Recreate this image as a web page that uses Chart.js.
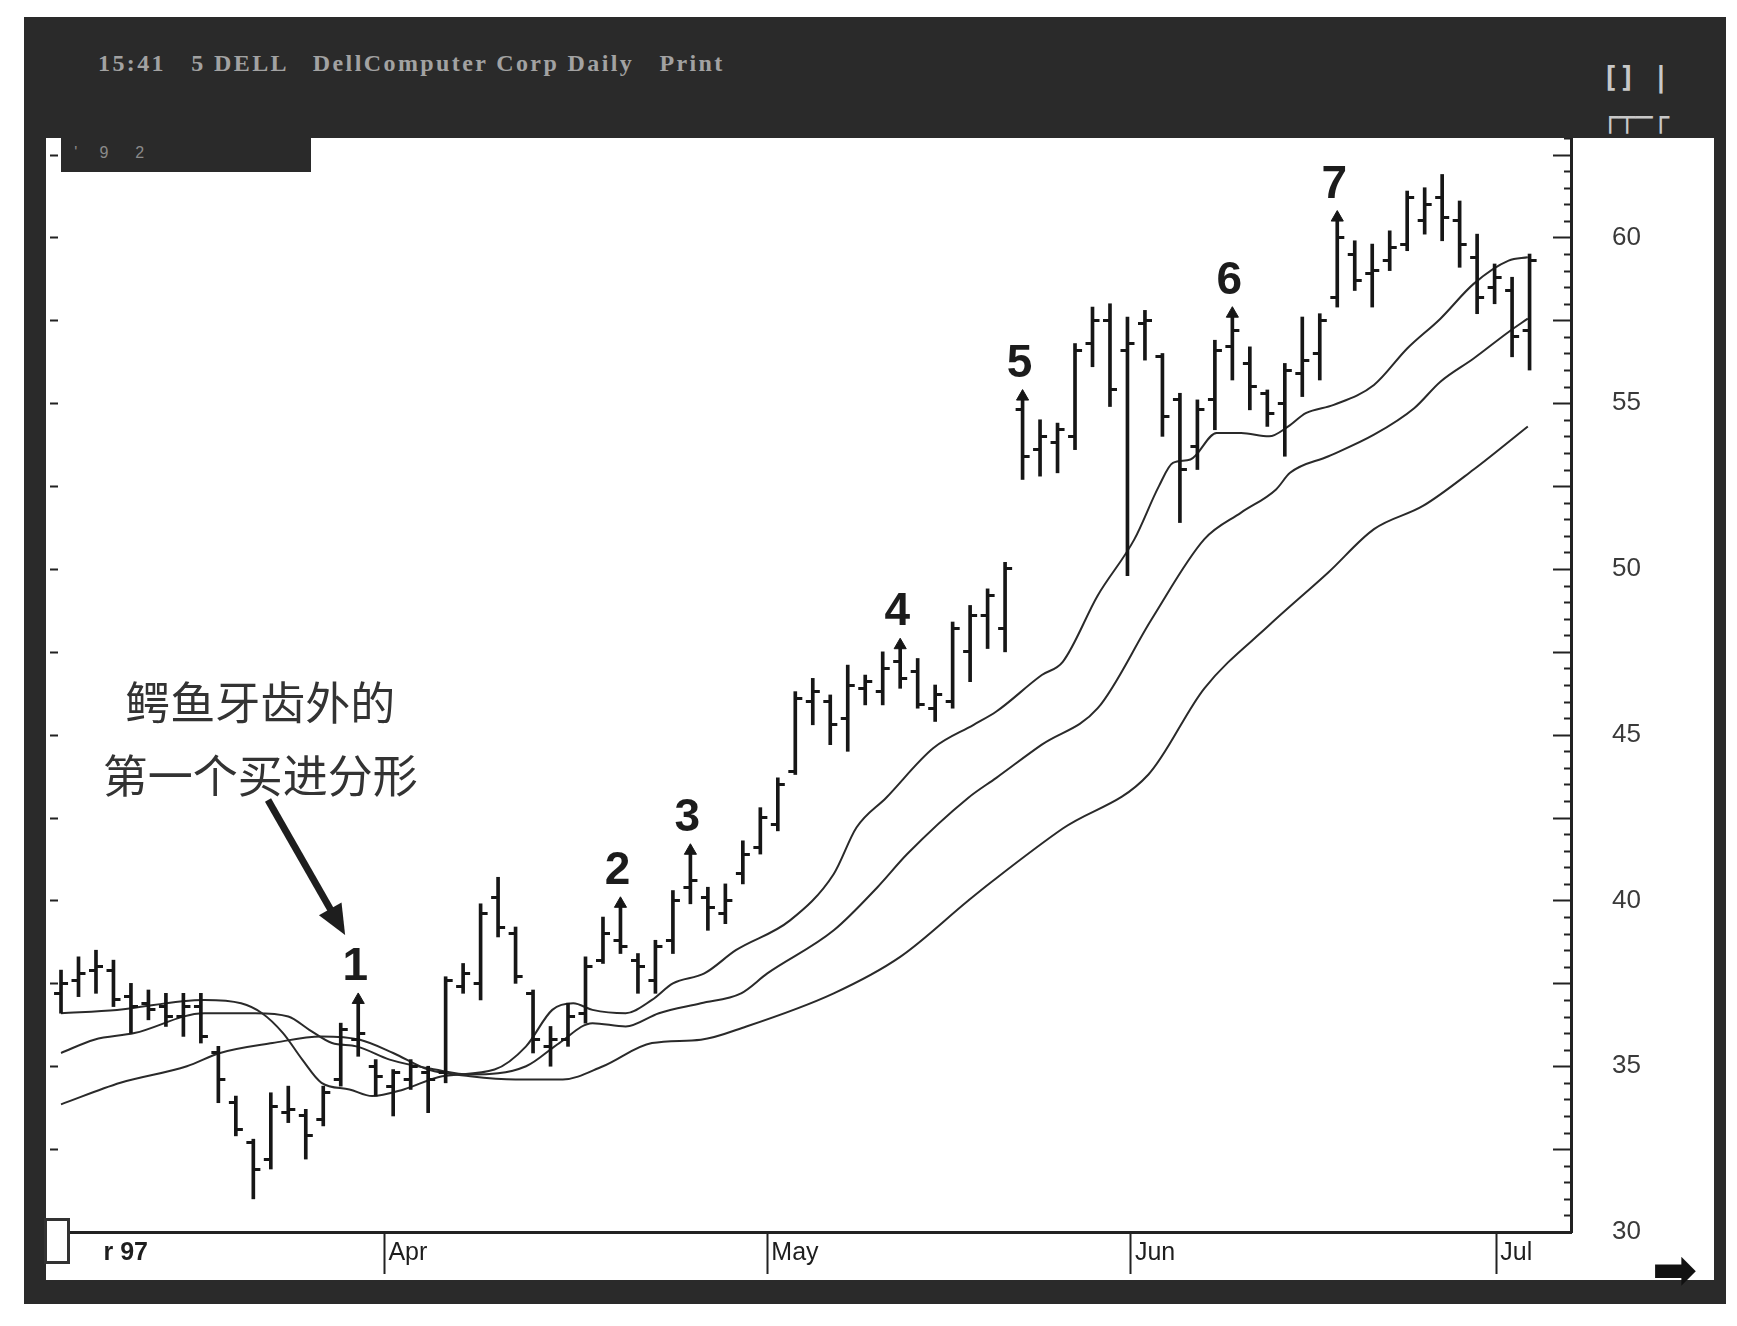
<!DOCTYPE html>
<html>
<head>
<meta charset="utf-8">
<script src="https://cdn.jsdelivr.net/npm/chart.js@4.4.0/dist/chart.umd.min.js"></script>
<style>
  body { margin: 0; background: #fff; width: 1737px; height: 1326px; position: relative; overflow: hidden; }
  #frame { position: absolute; left: 24px; top: 17px; width: 1702px; height: 1287px; background: #2a2a2a; }
  #title { position: absolute; left: 98px; top: 50px; color: #a2a2a2; font: bold 24px "Liberation Serif", serif; letter-spacing: 2.4px; white-space: pre; }
  #icons { position: absolute; left: 1602px; top: 58px; color: #c8c8c8; font: bold 28px "DejaVu Sans Mono", monospace; line-height: 40px; white-space: pre; }
  #panel { position: absolute; left: 46px; top: 138px; width: 1668px; height: 1142px; background: #fff; }
  #tag { position: absolute; left: 61px; top: 138px; width: 250px; height: 34px; background: #2a2a2a; color: #8a8a8a; font: 16px "Liberation Sans", sans-serif; line-height: 30px; white-space: pre; }
  #corner { position: absolute; left: 44px; top: 1218px; width: 20px; height: 40px; border: 3px solid #333; background: #fff; }
  #goRight { position: absolute; left: 1652px; top: 1238px; color: #111; font: bold 54px "DejaVu Sans", sans-serif; }
</style>
</head>
<body>
<div id="frame"></div>
<div id="title">15:41   5 DELL   DellComputer Corp Daily   Print</div>
<div id="icons">[] |
┌┬─┌</div>
<div id="panel"><canvas id="chart" width="1668" height="1142"></canvas></div>
<div id="tag">   '     9      2</div>
<div id="corner"></div>
<div id="goRight">➡</div>
<script>
// daily bars, index 0 = first visible day of March 97
const opens  = [37.2,37.6,37.9,37.9,37.1,36.9,36.8,36.5,36.8,35.4,33.9,32.7,32.2,33.6,33.5,33.4,34.6,35.8,35.0,34.4,34.6,34.8,
  34.8,37.4,37.5,40.1,39.0,37.2,35.6,35.8,36.6,38.2,38.8,38.2,37.6,38.8,40.4,40.1,39.6,40.8,41.6,42.3,
  43.9,46.0,46.0,45.5,46.4,46.3,47.2,46.9,45.8,46.0,47.5,48.6,48.2,54.8,53.6,53.8,54.0,56.8,57.5,56.6,57.4,
  56.4,55.1,53.7,55.1,56.7,56.2,55.3,55.0,55.9,56.5,58.2,59.5,58.9,59.3,59.8,60.5,61.2,60.5,59.4,58.5,58.4,57.2];
const highs  = [37.9,38.3,38.5,38.2,37.5,37.3,37.2,37.2,37.2,35.6,34.1,32.8,34.2,34.4,33.7,34.4,36.3,37.0,35.2,34.9,35.2,35.0,
  37.7,38.1,39.9,40.7,39.2,37.3,36.2,36.9,38.3,39.5,39.9,38.4,38.8,40.3,41.5,40.4,40.5,41.8,42.8,43.7,
  46.3,46.7,46.2,47.1,46.8,47.5,47.7,47.3,46.5,48.4,48.9,49.4,50.2,55.2,54.5,54.4,56.8,57.9,58.0,57.6,57.8,
  56.5,55.3,55.1,56.9,57.7,56.7,55.4,56.2,57.6,57.7,60.6,59.9,59.8,60.2,61.4,61.5,61.9,61.1,60.1,59.2,58.8,59.5];
const lows   = [36.6,37.1,37.2,36.8,36.0,36.4,36.2,35.9,35.7,33.9,32.9,31.0,31.9,33.3,32.2,33.2,34.4,35.3,34.1,33.5,34.3,33.6,
  34.5,37.2,37.0,38.9,37.5,35.4,35.0,35.6,36.3,38.1,38.4,37.2,37.2,38.4,39.9,39.1,39.3,40.5,41.4,42.1,
  43.8,45.3,44.7,44.5,45.9,45.9,46.4,45.8,45.4,45.8,46.6,47.6,47.5,52.7,52.8,52.9,53.6,56.1,54.9,49.8,56.3,
  54.0,51.4,53.0,54.2,55.7,54.8,54.3,53.4,55.2,55.7,57.9,58.4,57.9,59.0,59.6,60.1,59.9,59.1,57.7,58.0,56.4,56.0];
const closes = [37.5,37.8,38.0,37.0,36.8,36.7,36.5,36.8,35.9,34.6,33.1,31.9,33.8,33.7,32.9,34.2,36.1,36.0,34.7,34.8,35.0,34.6,
  37.6,37.8,39.6,39.2,37.7,35.8,35.8,36.5,38.0,39.0,38.6,38.0,38.6,40.0,40.6,39.8,40.0,41.4,42.5,43.5,
  46.1,46.3,45.3,46.5,46.6,47.0,46.7,45.9,46.2,48.2,48.6,49.2,50.0,53.4,54.0,54.2,56.6,57.5,55.4,56.8,57.5,
  54.6,53.0,54.8,56.6,57.2,55.5,54.7,56.0,56.3,57.5,60.0,58.7,59.0,59.7,61.2,61.0,60.6,59.8,58.2,58.8,57.0,59.3];

// up fractals, numbered 1..7
const fractalBars   = [17, 32, 36, 48, 55, 67, 73];
const fractalLabels = ['1', '2', '3', '4', '5', '6', '7'];

// alligator lines as [bar position, price]
const lipsLine = [[0,36.6],[3.2,36.7],[8.2,37.0],[10.3,36.9],[11.5,36.6],[12.7,36.0],[13.8,35.2],[14.9,34.5],[16.5,34.3],
  [17.8,34.1],[19.6,34.3],[21.8,34.7],[24.8,34.9],[26.6,35.6],[28.1,36.7],[29.3,36.9],[30.4,36.7],[32.3,36.6],[33.8,37.0],
  [35.0,37.5],[36.8,37.8],[38.6,38.5],[41.7,39.4],[44.2,40.8],[45.5,42.2],[47.2,43.1],[49.9,44.6],[52.2,45.3],[53.5,45.7],
  [56.1,46.8],[57.3,47.2],[59.3,49.2],[61.4,50.9],[62.8,52.5],[63.6,53.2],[64.6,53.3],[66.1,54.1],[67.5,54.1],[69.1,54.0],
  [70.2,54.3],[71.2,54.7],[72.8,54.95],[75.1,55.55],[77.0,56.65],[78.9,57.55],[80.8,58.6],[82.8,59.3],[83.9,59.4]];
const teethLine = [[0,35.4],[1.9,35.8],[4.2,36.0],[8.2,36.6],[11.1,36.6],[13.0,36.5],[14.2,36.1],[15.5,35.7],[16.9,35.6],
  [18.8,35.2],[21.4,34.9],[23.4,34.75],[26.6,35.0],[28.5,35.7],[30.4,36.3],[32.3,36.2],[34.2,36.6],[36.6,36.9],[38.9,37.2],
  [40.4,37.8],[44.2,39.1],[46.7,40.4],[48.4,41.4],[51.9,43.1],[53.5,43.7],[56.1,44.7],[59.3,45.8],[62.4,48.5],[65.4,50.9],
  [67.5,51.7],[69.5,52.4],[70.3,52.9],[72.5,53.4],[75.1,54.05],[77.4,54.85],[78.9,55.65],[80.8,56.35],[82.8,57.15],[83.9,57.55]];
const jawLine = [[0,33.85],[3.4,34.5],[7.2,35.0],[9.1,35.4],[12.1,35.7],[14.9,35.9],[17.1,35.8],[19.0,35.4],[21.0,34.9],
  [23.4,34.7],[26.0,34.6],[28.7,34.6],[31.0,35.0],[33.8,35.7],[36.6,35.8],[39.2,36.2],[44.2,37.2],[48.0,38.3],[51.9,40.0],
  [53.2,40.55],[57.3,42.17],[62.2,43.8],[65.4,46.4],[69.1,48.3],[72.5,49.9],[75.1,51.2],[77.9,51.9],[80.8,53.0],[83.9,54.3]];

// month marks on the time axis
const monthTicks  = [2.2, 18.5, 40.4, 61.2, 82.1];
const monthLabels = ['r 97', 'Apr', 'May', 'Jun', 'Jul'];

// annotation, in chart units
const noteLines = ['鳄鱼牙齿外的', '第一个买进分形'];
const notePos   = [[11.4, 45.96], [11.4, 43.75]];
const noteArrow = [[11.84, 43.03], [16.25, 38.96]];

const INK = '#161616';

function tickMark(side) {
  const c = document.createElement('canvas');
  c.width = 16; c.height = 3;
  const g = c.getContext('2d');
  g.fillStyle = INK;
  if (side === 'open') g.fillRect(1, 0, 7, 3); else g.fillRect(8, 0, 7, 3);
  return c;
}

const toXY = (pts) => pts.map(p => ({x: p[0], y: p[1]}));

const overlay = {
  id: 'overlay',
  afterDatasetsDraw(chart) {
    const {ctx, chartArea, scales: {x, y}} = chart;
    ctx.save();
    // ticks pointing into the plot on both price edges
    ctx.strokeStyle = '#222';
    ctx.lineWidth = 2;
    for (let v = 30; v <= 63; v += 0.5) {
      const py = Math.round(y.getPixelForValue(v)) + 0.5;
      const len = (v % 2.5 === 0) ? 18 : 7;
      ctx.beginPath();
      ctx.moveTo(chartArea.right - len, py);
      ctx.lineTo(chartArea.right, py);
      if (v % 2.5 === 0) {
        ctx.moveTo(chartArea.left, py);
        ctx.lineTo(chartArea.left + 8, py);
      }
      ctx.stroke();
    }
    // fractal numbers
    ctx.fillStyle = '#1c1c1c';
    ctx.font = 'bold 46px "Liberation Sans", Arial, sans-serif';
    ctx.textAlign = 'center';
    ctx.textBaseline = 'alphabetic';
    fractalBars.forEach((b, k) => {
      ctx.fillText(fractalLabels[k], x.getPixelForValue(b) - 3, y.getPixelForValue(highs[b]) - 20);
    });
    // note text
    ctx.fillStyle = '#333';
    ctx.font = '45px "Noto Sans CJK SC", sans-serif';
    ctx.textBaseline = 'middle';
    noteLines.forEach((t, k) => {
      ctx.fillText(t, x.getPixelForValue(notePos[k][0]), y.getPixelForValue(notePos[k][1]));
    });
    // note arrow
    const x0 = x.getPixelForValue(noteArrow[0][0]), y0 = y.getPixelForValue(noteArrow[0][1]);
    const x1 = x.getPixelForValue(noteArrow[1][0]), y1 = y.getPixelForValue(noteArrow[1][1]);
    const a = Math.atan2(y1 - y0, x1 - x0);
    ctx.strokeStyle = '#1e1e1e';
    ctx.fillStyle = '#1e1e1e';
    ctx.lineWidth = 7;
    ctx.beginPath();
    ctx.moveTo(x0, y0);
    ctx.lineTo(x1 - 24 * Math.cos(a), y1 - 24 * Math.sin(a));
    ctx.stroke();
    ctx.beginPath();
    ctx.moveTo(x1, y1);
    ctx.lineTo(x1 - 30 * Math.cos(a) + 13 * Math.sin(a), y1 - 30 * Math.sin(a) - 13 * Math.cos(a));
    ctx.lineTo(x1 - 30 * Math.cos(a) - 13 * Math.sin(a), y1 - 30 * Math.sin(a) + 13 * Math.cos(a));
    ctx.closePath();
    ctx.fill();
    ctx.restore();
  }
};

const lineStyle = {
  type: 'line', borderColor: '#2a2a2a', borderWidth: 2, pointRadius: 0,
  cubicInterpolationMode: 'monotone', fill: false, order: 4
};

new Chart(document.getElementById('chart'), {
  type: 'line',
  data: {
    datasets: [
      Object.assign({label: 'Lips', data: toXY(lipsLine)}, lineStyle),
      Object.assign({label: 'Teeth', data: toXY(teethLine)}, lineStyle),
      Object.assign({label: 'Jaw', data: toXY(jawLine)}, lineStyle),
      {
        type: 'bar', label: 'High-Low', order: 3,
        data: highs.map((h, i) => ({x: i, y: [lows[i], h]})),
        backgroundColor: INK, borderWidth: 0, barThickness: 3
      },
      {
        type: 'scatter', label: 'Open', order: 2,
        data: opens.map((v, i) => ({x: i, y: v})),
        pointStyle: tickMark('open'), pointRadius: 8
      },
      {
        type: 'scatter', label: 'Close', order: 2,
        data: closes.map((v, i) => ({x: i, y: v})),
        pointStyle: tickMark('close'), pointRadius: 8
      },
      {
        type: 'scatter', label: 'Fractal', order: 1,
        data: fractalBars.map(b => ({x: b, y: highs[b]})),
        pointStyle: 'triangle', pointRadius: 7,
        backgroundColor: INK, borderColor: INK, borderWidth: 1
      }
    ]
  },
  options: {
    responsive: false,
    animation: false,
    devicePixelRatio: 1,
    layout: {autoPadding: false, padding: {left: 4, right: 0, top: 0, bottom: 0}},
    plugins: {legend: {display: false}, tooltip: {enabled: false}},
    scales: {
      x: {
        type: 'linear', min: -0.63, max: 86.37, offset: false,
        afterBuildTicks: s => { s.ticks = monthTicks.map(v => ({value: v})); },
        afterFit: s => { s.height = 48; s.paddingLeft = 0; s.paddingRight = 0; },
        ticks: {
          autoSkip: false, maxRotation: 0, align: 'start', labelOffset: 4, padding: -36,
          color: '#1e1e1e',
          font: c => ({family: 'Liberation Sans', size: 25, weight: c.index === 0 ? 'bold' : 'normal'}),
          callback: (v, i) => monthLabels[i]
        },
        grid: {
          offset: false, drawOnChartArea: false, tickLength: 42, tickWidth: 2,
          tickColor: c => c.index === 0 ? 'rgba(0,0,0,0)' : '#222'
        },
        border: {display: true, color: '#222', width: 3}
      },
      y: {
        type: 'linear', position: 'right', min: 30, max: 63,
        afterFit: s => { s.width = 143; s.paddingTop = 0; s.paddingBottom = 0; },
        ticks: {
          stepSize: 5, includeBounds: false, padding: 41,
          color: '#3a3a3a', font: {family: 'Liberation Sans', size: 26}
        },
        grid: {drawOnChartArea: false, drawTicks: false},
        border: {display: true, color: '#222', width: 3}
      }
    }
  },
  plugins: [overlay]
});
</script>
</body>
</html>
